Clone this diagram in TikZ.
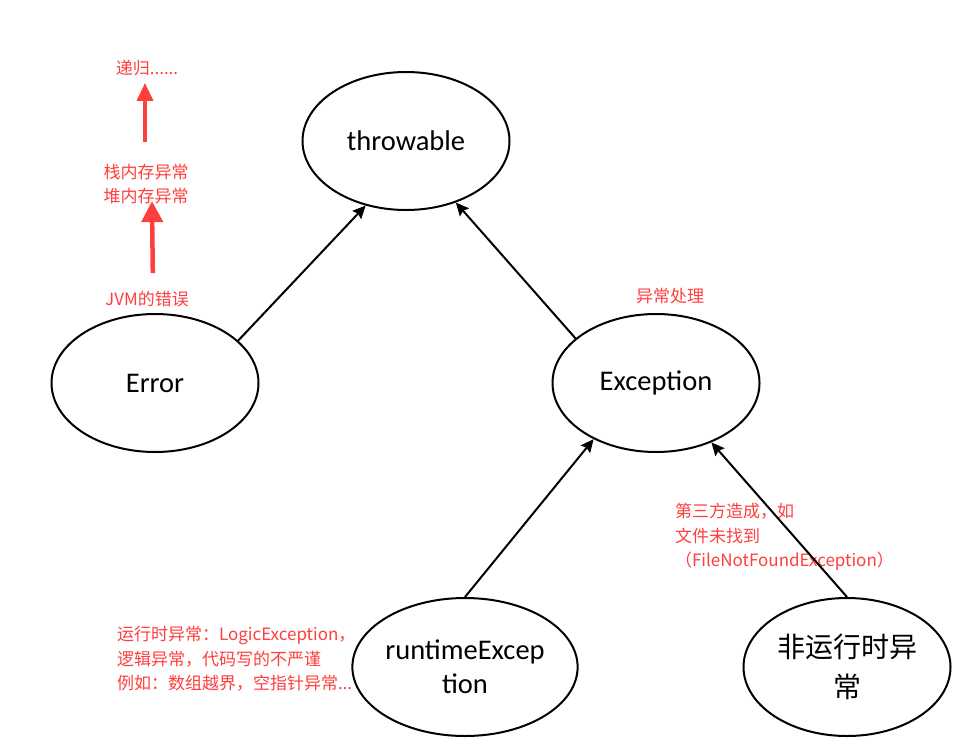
\documentclass[tikz,border=0pt]{standalone}
\usepackage{fontspec}
\setmainfont{Carlito}
\newfontfamily\cjk{Noto Sans CJK SC}
\usetikzlibrary{arrows.meta,positioning,shapes.geometric}
\definecolor{notered}{RGB}{255,62,62}

\begin{document}
\begin{tikzpicture}[x=1pt,y=-1pt,line width=2pt,-{Stealth[length=13pt,width=12pt,inset=2pt]},main/.style = {shape=ellipse,draw,align=center,minimum width=207pt,minimum height=138pt,inner sep=0pt,font=\fontsize{28.5}{34}\selectfont},note/.style = {text=notered,inner sep=0pt,font=\cjk\fontsize{17}{24.5}\selectfont},up/.style = {draw=notered,-{Triangle[length=21pt,width=21pt]}}]
			\useasboundingbox (0,0) rectangle (968,755);
			\node (throwable) [main] at (406,141) {throwable};
			\node (error) [main,on grid,below left=242pt and 251pt of throwable] {Error};
			\node (exception) [main,on grid,below right=242pt and 250pt of throwable] {Exception};
			\node (runtime) [main,on grid,below left=284pt and 191pt of exception] {runtimeExcep\\tion};
			\node (checked) [main,on grid,below right=284pt and 191pt of exception,font=\cjk\fontsize{28}{40}\selectfont] {非运行时异\\常};

			\node (recursion) [note] at (147,68) {递归......};
			\node (memory) [note,align=center] at (146,184) {栈内存异常\\堆内存异常};
			\node (jvm) [note] at (147,299) {JVM的错误};
			\node (handling) [note] at (670,296) {异常处理};
			\node (thirdparty) [note,align=left,anchor=west] at (674,537) {第三方造成，如\\文件未找到\\（FileNotFoundException）};
			\node (runtimenote) [note,align=left,anchor=west] at (116,659) {运行时异常：LogicException，\\逻辑异常，代码写的不严谨\\例如：数组越界，空指针异常...};

            \path (error.27) edge (throwable.238);
            \path (exception.151) edge (throwable.309);
            \path (runtime.north) edge (exception.222);
            \path (checked.north) edge (exception.313);

            \draw[up,line width=3.5pt,-{Triangle[length=18pt,width=16pt]},shorten <=21pt,shorten >=6pt] ([xshift=-1pt]memory.north) -- ([xshift=-2pt]recursion.south);
            \draw[up,line width=4.5pt,shorten <=17pt,shorten >=-4pt] ([xshift=6pt]jvm.north) -- ([xshift=6pt]memory.south);
		\end{tikzpicture}
\end{document}
